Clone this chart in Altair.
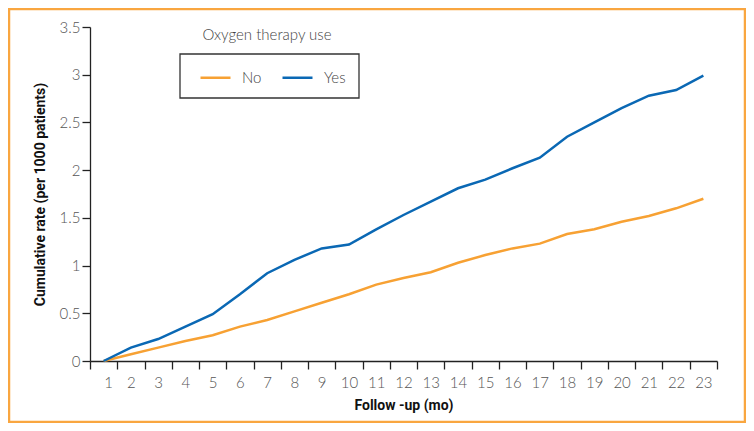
import altair as alt
import pandas as pd

months = list(range(1, 24))
no_vals = [0, 0.07, 0.14, 0.21, 0.27, 0.36, 0.43, 0.52, 0.61, 0.70, 0.80, 0.87,
           0.93, 1.03, 1.11, 1.18, 1.23, 1.33, 1.38, 1.46, 1.52, 1.60, 1.70]
yes_vals = [0, 0.14, 0.23, 0.36, 0.49, 0.70, 0.92, 1.06, 1.18, 1.22, 1.38, 1.53,
            1.67, 1.81, 1.90, 2.02, 2.13, 2.35, 2.50, 2.65, 2.78, 2.84, 2.99]
groups = ["No", "Yes"]
colors = ["#F7A133", "#0A68B4"]

df = pd.DataFrame({
    "month": months * 2,
    "rate": no_vals + yes_vals,
    "group": ["No"] * len(months) + ["Yes"] * len(months),
})

W, H = 627, 334
FONT = "Lato"
TITLE_FONT = "Roboto"

x_ticks = [m - 0.5 for m in months] + [23.5]
y_ticks = [i * 0.5 for i in range(8)]

lines = alt.Chart(df).mark_line(strokeWidth=2.5).encode(
    x=alt.X("month:Q",
            scale=alt.Scale(domain=[0.5, 23.5], nice=False, zero=False),
            axis=alt.Axis(values=x_ticks,
                          labelExpr="datum.value < 23 ? toString(datum.value + 0.5) : ''",
                          labelOffset=W / 23 / 2,
                          title="Follow -up (mo)", grid=False, tickSize=8,
                          labelPadding=6, titlePadding=8)),
    y=alt.Y("rate:Q",
            scale=alt.Scale(domain=[0, 3.5], nice=False),
            axis=alt.Axis(values=y_ticks, format=".1~f",
                          title="Cumulative rate (per 1000 patients)", grid=False,
                          tickSize=8, labelPadding=2, titlePadding=12)),
    color=alt.Color("group:N",
                    scale=alt.Scale(domain=groups, range=colors),
                    legend=alt.Legend(title=None, orient="none", direction="horizontal",
                                      legendX=109, legendY=34, symbolType="stroke",
                                      symbolSize=900, symbolStrokeWidth=2.5,
                                      labelOffset=10, columnPadding=15,
                                      labelFontSize=15, labelFont=FONT,
                                      labelFontWeight=300,
                                      labelColor="#444", padding=0)),
)

one = alt.Data(values=[{"k": 0}])

legend_box = alt.Chart(one).mark_rect(fill=None, stroke="#333", strokeWidth=1.3).encode(
    x=alt.value(90), x2=alt.value(269), y=alt.value(27), y2=alt.value(71))

legend_title = alt.Chart(one).mark_text(
    text="Oxygen therapy use", font=FONT, fontSize=15, fontWeight=300, color="#444",
    align="center", baseline="middle").encode(x=alt.value(177), y=alt.value(8))

frame = alt.Chart(one).mark_rect(fill=None, stroke="#F9A640", strokeWidth=2.5).encode(
    x=alt.value(-81), x2=alt.value(655), y=alt.value(-18), y2=alt.value(395))

chart = alt.layer(frame, lines, legend_box, legend_title).properties(
    width=W, height=H,
    autosize=alt.AutoSizeParams(type="none"),
    padding={"left": 82, "top": 19, "right": 29, "bottom": 62},
).configure_view(stroke=None).configure_axis(
    domainColor="#222", tickColor="#222", domainWidth=1.3, tickWidth=1.3,
    labelFont=FONT, labelFontSize=15, labelFontWeight=300, labelColor="#555",
    titleFont=TITLE_FONT, titleFontSize=14, titleFontWeight="bold", titleColor="#111",
)

chart.save("out.html", embed_options={"renderer": "svg", "actions": False})
